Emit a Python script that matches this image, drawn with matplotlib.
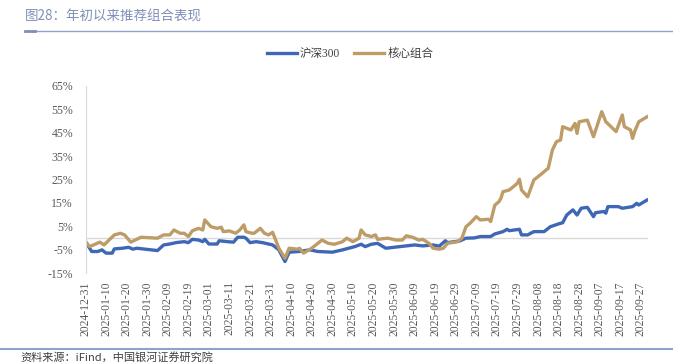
import matplotlib
matplotlib.use('Agg')
import matplotlib.pyplot as plt
import matplotlib.dates as mdates
from matplotlib.ticker import FuncFormatter
import pandas as pd

# values (days since 2024-12-31, cumulative return in %)
hs300_days = [0, 3, 6, 8, 10, 13, 14, 18, 21, 23, 25, 35, 38, 41, 44, 48, 50, 52, 55, 57,
              58, 60, 64, 65, 69, 72, 74, 77, 78, 80, 83, 86, 91, 94, 97, 99, 104, 109, 113, 120,
              125, 128, 131, 134, 136, 139, 142, 146, 153, 160, 164, 169, 172, 175, 176, 182, 185, 189, 192, 197,
              199, 203, 205, 206, 211, 212, 215, 218, 223, 226, 230, 232, 234, 237, 239, 241, 244, 247, 248, 252,
              253, 254, 259, 261, 266, 268, 269, 273]
hs300_vals = [-1.5, -5.8, -5.8, -5.1, -6.5, -6.5, -4.7, -4.4, -4.0, -4.8, -4.4, -5.4, -3.0, -2.6, -2.0, -1.6, -2.0, -0.6, -0.9, -1.6,
              -0.6, -2.6, -2.6, -1.2, -1.6, -1.8, 0.3, 0.3, -0.1, -2.0, -1.6, -2.0, -3.0, -5.1, -10.1, -6.1, -5.8, -5.1, -5.8, -6.1,
              -5.1, -4.4, -3.7, -2.7, -3.7, -2.7, -2.3, -4.4, -3.7, -3.0, -3.4, -3.0, -3.5, -1.2, -2.0, -1.3, -0.1, 0.0, 0.6, 0.6,
              1.7, 2.7, 3.7, 3.1, 3.7, 1.3, 1.3, 2.7, 2.7, 4.8, 6.0, 6.5, 9.8, 12.0, 9.8, 12.7, 13.1, 9.1, 10.8, 11.3,
              10.6, 13.4, 13.4, 12.7, 13.4, 14.8, 14.1, 16.2]

core_days = [0, 2, 7, 9, 14, 17, 19, 22, 27, 35, 38, 41, 43, 46, 48, 50, 52, 55, 57, 58,
             61, 64, 66, 67, 70, 73, 75, 77, 78, 81, 82, 85, 87, 89, 91, 94, 97, 99, 103, 104,
             106, 110, 115, 118, 121, 125, 127, 130, 133, 134, 136, 139, 141, 142, 147, 151, 154, 156, 159, 162,
             164, 167, 169, 172, 174, 176, 181, 183, 185, 187, 190, 192, 196, 197, 199, 201, 202, 203, 206, 208,
             210, 211, 212, 215, 218, 222, 224, 225, 227, 229, 231, 232, 234, 236, 238, 239, 240, 244, 247, 251,
             253, 258, 261, 262, 265, 266, 267, 269, 273]
core_vals = [-1.6, -3.7, -1.8, -3.0, 1.3, 2.0, 1.3, -1.8, 0.3, -0.1, 1.3, 1.3, 3.4, 2.0, 2.0, 0.6, 3.1, 4.1, 3.4, 7.7,
             4.8, 4.1, 4.6, 2.7, 3.0, 2.0, 3.4, 5.6, 2.7, 2.0, 2.0, 4.1, 2.0, 1.3, 2.4, -4.4, -8.7, -4.4, -4.8, -4.4,
             -6.5, -4.4, -0.9, -2.3, -2.7, -1.6, -0.1, -1.6, -0.1, 3.4, 1.3, 0.6, 1.3, -0.6, -0.1, -0.9, -0.9, 0.9, 0.3, -0.9,
             -0.6, -2.3, -4.4, -4.8, -4.4, -2.3, -1.6, -0.1, 4.8, 6.3, 9.1, 7.7, 8.0, 7.0, 14.0, 15.5, 17.0, 19.8, 20.5, 21.9,
             23.4, 25.1, 20.5, 17.6, 24.8, 27.6, 29.1, 29.8, 37.6, 41.2, 41.9, 47.6, 46.9, 46.2, 49.0, 44.7, 49.7, 50.4, 43.3, 54.0,
             49.7, 45.5, 52.6, 47.6, 46.2, 42.6, 45.5, 49.7, 51.8]

yticks = [-15, -5, 5, 15, 25, 35, 45, 55, 65]

start = pd.Timestamp('2024-12-31')
hs300_dates = start + pd.to_timedelta(hs300_days, unit='D')
core_dates = start + pd.to_timedelta(core_days, unit='D')
xticks = pd.date_range('2024-12-31', '2025-09-27', freq='10D')

blue = '#3E67B6'
tan = '#BE9C68'
frame_blue = '#8FA3C8'
num_font = ['Liberation Serif', 'Noto Sans CJK SC']

fig = plt.figure(figsize=(6.73, 3.63), dpi=100)
ax = fig.add_axes([85.5 / 673, 1 - 273 / 363, (648 - 85.5) / 673, (273 - 86) / 363])

ax.plot(hs300_dates, hs300_vals, color=blue, lw=2.4, label='沪深300', solid_joinstyle='round')
ax.plot(core_dates, core_vals, color=tan, lw=2.4, label='核心组合', solid_joinstyle='round')

ax.axhline(0, color='#D9D9D9', lw=1.0, zorder=0)
ax.set_ylim(-15, 65)
ax.set_yticks(yticks)
ax.yaxis.set_major_formatter(FuncFormatter(lambda v, p: '%d%%' % v))
ax.set_xlim(start, start + pd.Timedelta(days=273.5))
ax.set_xticks(xticks)
ax.xaxis.set_major_formatter(mdates.DateFormatter('%Y-%m-%d'))

for s in ['top', 'right', 'bottom']:
    ax.spines[s].set_visible(False)
ax.spines['left'].set_color('#D9D9D9')
ax.tick_params(axis='both', length=0, colors='#595959')
ax.tick_params(axis='y', pad=9)
ax.tick_params(axis='x', pad=6)
for lab in ax.get_yticklabels():
    lab.set_family(num_font)
    lab.set_fontsize(8.5)
for lab in ax.get_xticklabels():
    lab.set_family(num_font)
    lab.set_fontsize(8.4)
    lab.set_rotation(90)

fig.legend(loc='center', bbox_to_anchor=(350 / 673, 1 - 54 / 363), ncol=2, frameon=False,
           handlelength=2.6, columnspacing=1.2, handletextpad=0.3,
           prop={'family': num_font, 'size': 8.3}, labelcolor='#404040')

# title and frame lines
fig.text(25 / 673, 1 - 17 / 363, '图28：年初以来推荐组合表现', color='#7F8FB8',
         fontsize=9.7, family=['Noto Sans CJK SC', 'DejaVu Sans'], va='center', ha='left')
fig.add_artist(plt.Line2D([25 / 673, 1], [1 - 31 / 363] * 2, color=frame_blue, lw=1.0))
fig.add_artist(plt.Line2D([25 / 673, 35 / 673], [1 - 31 / 363] * 2, color='#7F8FB8', lw=2.0))
fig.add_artist(plt.Line2D([0, 1], [1 - 349 / 363] * 2, color=frame_blue, lw=1.5))
fig.text(20 / 673, 1 - 357 / 363, '资料来源：iFind，中国银河证券研究院', color='#404040',
         fontsize=8, family=['Noto Sans CJK SC', 'DejaVu Sans'], style='italic',
         va='center', ha='left')

fig.savefig('out.png', dpi=100)
